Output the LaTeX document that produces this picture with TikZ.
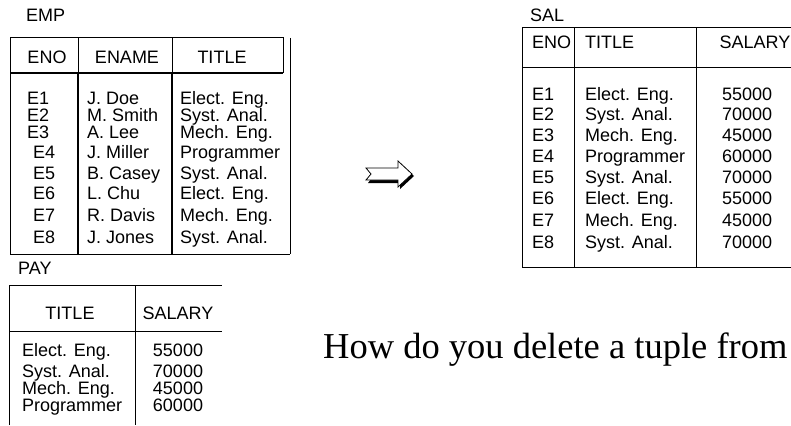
\documentclass[tikz,border=0pt]{standalone}
\usepackage{fontspec}
\setmainfont{Liberation Sans}
\newfontfamily\bigserif{Liberation Serif}
\begin{document}
\begin{tikzpicture}[x=1pt,y=-1pt,
  tx/.style={inner sep=0pt, anchor=base west, font=\fontsize{18}{18}\selectfont},
  tc/.style={inner sep=0pt, anchor=base, font=\fontsize{18}{18}\selectfont},
  rule/.style={line width=1pt, black},
  bold rule/.style={line width=1.6pt, black}]
\useasboundingbox (0,0) rectangle (791,425);
\clip (0,0) rectangle (791,425);
% ---------- EMP ----------
\node[tx] (emplbl) at (26,22) {EMP};
\draw[rule] (10,38) -- (283,38) -- (283,73);
\draw[rule] (290,38) -- (290,254);
\draw[bold rule] (10,73) -- (283,73);
\draw[rule] (10,38) -- (10,254) -- (290,254);
\draw[rule] (78,38) -- (78,73);
\draw[rule] (172,38) -- (172,73);
\draw[bold rule] (78,73) -- (78,254);
\draw[bold rule] (172,73) -- (172,254);
\node[tc] (hENO) at (47,64) {ENO};
\node[tc] (hENAME) at (127,64) {ENAME};
\node[tc] (hTITLE) at (222,64) {TITLE};
\foreach \n/\y/\ex/\nm/\ti in {1/98/27/J. Doe/Elect. Eng., 2/115/27/M. Smith/Syst. Anal., 3/132/27/A. Lee/Mech. Eng., 4/152/33/J. Miller/Programmer, 5/173/33/B. Casey/Syst. Anal., 6/193/33/L. Chu/Elect. Eng., 7/215/33/R. Davis/Mech. Eng., 8/237/33/J. Jones/Syst. Anal.}{
  \node[tx] (ee\n) at (\ex,\y+6.5) {E\n};
  \node[tx] (en\n) at (87,\y+6.5) {\nm};
  \node[tx] (et\n) at (180,\y+6.5) {\ti};
}
% ---------- PAY ----------
\node[tx] (paylbl) at (18,274.5) {PAY};
\draw[rule] (9,425) -- (9,285) -- (222,285);
\draw[rule] (135,285) -- (135,425);
\draw[rule] (9,331) -- (222,331);
\node[tc] (pT) at (70,319.5) {TITLE};
\node[tc] (pS) at (178,319.5) {SALARY};
\foreach \n/\y/\ti/\s in {1/350/Elect. Eng./55000, 2/371/Syst. Anal./70000, 3/388/Mech. Eng./45000, 4/405/Programmer/60000}{
  \node[tx] (pt\n) at (22,\y+6.5) {\ti};
  \node[tc] (ps\n) at (178,\y+6.5) {\s};
}
% ---------- arrow ----------
\fill[black] (368,170) -- (400,170) -- (400,163) -- (414,176) -- (400,189) -- (400,183) -- (368,183) -- (373,176.5) -- cycle;
\draw[line width=0.8pt, fill=white, line join=miter] (366,168) -- (398,168) -- (398,161) -- (412,174) -- (398,187) -- (398,180) -- (366,180) -- (371,174) -- cycle;
% ---------- SAL ----------
\node[tx] (sallbl) at (530,22) {SAL};
\draw[rule] (800,28) -- (522,28) -- (522,267) -- (800,267);
\draw[rule] (522,68) -- (800,68);
\draw[rule] (574,28) -- (574,267);
\draw[rule] (696,28) -- (696,267);
\node[tx] (sE) at (532,48.5) {ENO};
\node[tx] (sT) at (585,48.5) {TITLE};
\node[tx] (sS) at (719.5,48.5) {SALARY};
\foreach \n/\y/\ti/\s in {1/94/Elect. Eng./55000, 2/114/Syst. Anal./70000, 3/135/Mech. Eng./45000, 4/156/Programmer/60000, 5/177/Syst. Anal./70000, 6/198/Elect. Eng./55000, 7/220/Mech. Eng./45000, 8/242/Syst. Anal./70000}{
  \node[tx] (se\n) at (532,\y+6.5) {E\n};
  \node[tx] (st\n) at (585,\y+6.5) {\ti};
  \node[tx] (ss\n) at (722,\y+6.5) {\s};
}
% ---------- question ----------
\node[inner sep=0pt, anchor=base west, font=\bigserif\fontsize{36.5}{36.5}\selectfont] (q) at (323,358) {How do you delete a tuple from};
\end{tikzpicture}
\end{document}
